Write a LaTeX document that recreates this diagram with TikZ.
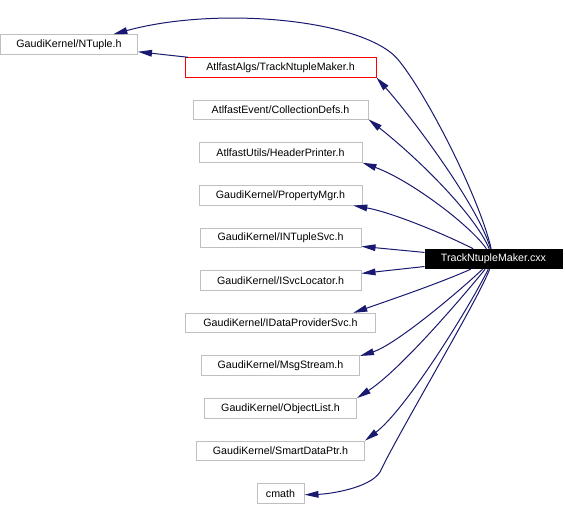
\documentclass[tikz,border=0pt]{standalone}
\usepackage{fontspec}
\setmainfont{Liberation Sans}
\usetikzlibrary{arrows.meta}

\begin{document}
\begin{tikzpicture}[x=0.75pt,y=-0.75pt,
        caja/.style={draw=gris,line width=0.75pt,minimum height=14.6pt,inner sep=0pt,
            font=\fontsize{8}{9.6}\selectfont},
        flecha/.style={azul,line width=0.75pt,-{Triangle[length=10.5pt,width=5pt]}}]
        %colores
        \definecolor{azul}{RGB}{25,25,112}
        \definecolor{gris}{RGB}{191,191,191}
        \useasboundingbox (0,0) rectangle (565,505);

        % Nodo central
        \node[caja,draw=black,fill=black,text=white,minimum width=137*0.75pt] (cxx) at (493.5,259) {TrackNtupleMaker.cxx};
        % Cabeceras
        \node[caja,minimum width=137*0.75pt] (ntuple) at (69,44.5) {GaudiKernel/NTuple.h};
        \node[caja,draw=red,minimum width=191*0.75pt] (algs) at (280.5,67.5) {AtlfastAlgs/TrackNtupleMaker.h};
        \foreach \i/\nombre/\ancho/\texto in {1/coll/175/{AtlfastEvent/CollectionDefs.h},
            2/header/163/{AtlfastUtils/HeaderPrinter.h}, 3/prop/163/{GaudiKernel/PropertyMgr.h},
            4/intuple/161/{GaudiKernel/INTupleSvc.h}, 5/isvc/161/{GaudiKernel/ISvcLocator.h},
            6/idata/190/{GaudiKernel/IDataProviderSvc.h}, 7/msg/158/{GaudiKernel/MsgStream.h},
            8/objlist/152/{GaudiKernel/ObjectList.h}, 9/smart/168/{GaudiKernel/SmartDataPtr.h},
            10/cmath/47/{cmath}}
            \node[caja,minimum width=\ancho*0.75pt] (\nombre) at (280.5,{67.5+42.6*\i}) {\texto};

        % Flechas rectas
        \draw[flecha] (algs) -- (ntuple.-6.3);
        \draw[flecha] (cxx) -- (intuple.-6.45);
        \draw[flecha] (cxx) -- (isvc.5.3);
        % Flechas curvas
        \draw[flecha] (cxx) .. controls (480,200) and (430,100) .. (400,62)
            .. controls (370,20) and (220,5) .. (ntuple.13.7);
        \foreach \dest/\ax/\ay/\bx/\by in {algs.-6.4/478/205/410/115, coll.-6.8/475/215/420/160,
            header.-7.7/470/225/410/180, prop.-8.6/440/232/390/212, idata.8.9/440/283/390/300,
            msg.7.8/455/295/395/345, objlist.north east/460/300/400/370, smart.north east/465/315/405/410}
            \draw[flecha] (cxx) .. controls (\ax,\ay) and (\bx,\by) .. (\dest);
        \draw[flecha] (cxx) .. controls (478,300) and (400,430) .. (380,472)
            .. controls (370,488) and (330,494) .. (cmath.-3.7);
    \end{tikzpicture}
\end{document}
